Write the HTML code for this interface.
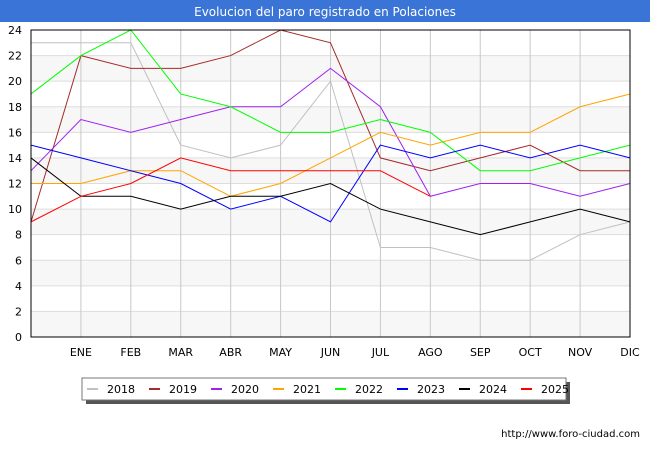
<!DOCTYPE html>
<html><head><meta charset="utf-8"><style>
body{margin:0;background:#fff;font-family:"Liberation Sans","DejaVu Sans",sans-serif}
</style></head><body>
<svg id="c" width="650" height="450" xmlns="http://www.w3.org/2000/svg" font-family="DejaVu Sans, Liberation Sans, sans-serif">
<rect x="0" y="0" width="650" height="22" fill="#3a74d6"/>
<text x="325" y="16" text-anchor="middle" fill="#fff" font-size="12">Evolucion del paro registrado en Polaciones</text>
<g id="grid"></g>
<g id="lines"></g>
<rect x="31" y="30" width="599" height="307" fill="none" stroke="#000" stroke-width="1"/>
<rect x="86" y="382" width="484" height="22" fill="#555"/>
<rect x="82" y="378" width="484" height="22" fill="#fff" stroke="#777"/>
<g id="legend"></g>
<text x="640" y="437" text-anchor="end" font-size="10" fill="#000">http://www.foro-ciudad.com</text>
</svg>
<script>
const months=["","ENE","FEB","MAR","ABR","MAY","JUN","JUL","AGO","SEP","OCT","NOV","DIC"];
const yTicks=[0,2,4,6,8,10,12,14,16,18,20,22,24];
const years=["2018","2019","2020","2021","2022","2023","2024","2025"];
const colors=["#c0c0c0","#a52a2a","#a020f0","#ffa500","#00ff00","#0000ff","#000000","#ff0000"];
const s2018=[23,23,23,15,14,15,20,7,7,6,6,8,9];
const s2019=[9,22,21,21,22,24,23,14,13,14,15,13,13];
const s2020=[13,17,16,17,18,18,21,18,11,12,12,11,12];
const s2021=[12,12,13,13,11,12,14,16,15,16,16,18,19];
const s2022=[19,22,24,19,18,16,16,17,16,13,13,14,15];
const s2023=[15,14,13,12,10,11,9,15,14,15,14,15,14];
const s2024=[14,11,11,10,11,11,12,10,9,8,9,10,9];
const s2025=[9,11,12,14,13,13,13,13,11];
const series=[s2018,s2019,s2020,s2021,s2022,s2023,s2024,s2025];
const NS="http://www.w3.org/2000/svg";
const X0=31,X1=630,Y0=337,Y1=30;
const x=i=>X0+i*(X1-X0)/12;
const y=v=>Y0-v*(Y0-Y1)/24;
function mk(t,a,p){const e=document.createElementNS(NS,t);for(const k in a)e.setAttribute(k,a[k]);p.appendChild(e);return e;}
const g=document.getElementById('grid');
for(let k=0;k<24;k+=4){
 const r=mk('rect',{x:X0,y:y(k+2),width:X1-X0,height:y(k)-y(k+2),fill:'#f7f7f7'},g);
 
 
}
yTicks.forEach(v=>{
 const l=mk('line',{x1:X0,x2:X1,y1:y(v),y2:y(v),stroke:'#ddd'},g);
 
 
 const t=mk('text',{x:22,y:y(v)+4,'text-anchor':'end','font-size':11},g);
 t.textContent=v;
 
 
});
months.forEach((m,i)=>{
 if(i===0)return;
 const l=mk('line',{x1:x(i),x2:x(i),y1:Y1,y2:Y0,stroke:'#c8c8c8'},g);
 
 
 const t=mk('text',{x:x(i),y:356,'text-anchor':'middle','font-size':11},g);
 t.textContent=m;
 
 
});
const L=document.getElementById('lines');
series.forEach((s,j)=>{
 const p=mk('polyline',{points:s.map((v,i)=>x(i)+','+y(v)).join(' '),fill:'none',stroke:colors[j],'stroke-width':1},L);
 
 
});
const lg=document.getElementById('legend');
years.forEach((yr,j)=>{
 const bx=87+j*62;
 const r=mk('rect',{x:bx,y:388,width:11,height:2,fill:colors[j]},lg);
 
 
 const t=mk('text',{x:bx+20,y:393,'font-size':11},lg);
 t.textContent=yr;
 
 
});
</script>
</body></html>
